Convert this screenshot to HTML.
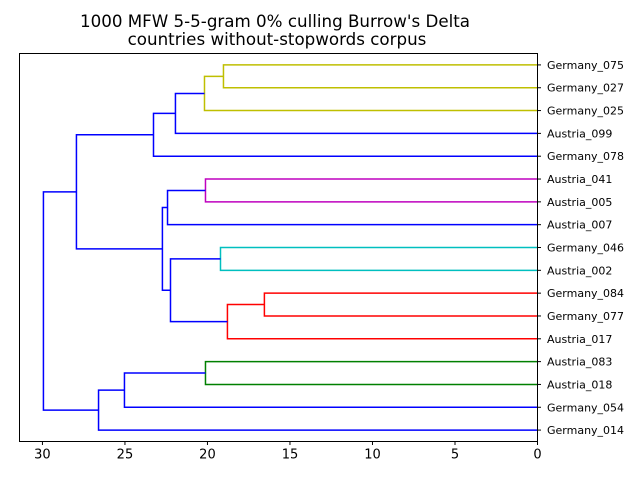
<!DOCTYPE html>
<html><head><meta charset="utf-8"><style>
body{margin:0;background:#fff;}
svg text{font-family:"DejaVu Sans","Liberation Sans",sans-serif;}
</style></head><body>
<svg id="chart" width="640" height="480" viewBox="0 0 640 480" xmlns="http://www.w3.org/2000/svg">
<rect width="640" height="480" fill="#fff"/>
<text x="275" y="27" font-size="16.7" text-anchor="middle">1000 MFW 5-5-gram 0% culling Burrow's Delta</text>
<text x="277" y="45" font-size="16.7" text-anchor="middle">countries without-stopwords corpus</text>
<g id="marks"></g>
<rect x="19.5" y="53.5" width="518" height="388" fill="none" stroke="#000" stroke-width="1"/>
<g id="axes"></g>
</svg>
<script>
const leaves = ["Germany_075","Germany_027","Germany_025","Austria_099","Germany_078","Austria_041","Austria_005","Austria_007","Germany_046","Austria_002","Germany_084","Germany_077","Austria_017","Austria_083","Austria_018","Germany_054","Germany_014"];
const mergeLeft  = [0,17,18,19,5,21,8,10,24,23,22,20,13,29,30,28];
const mergeRight = [1,2,3,4,6,7,9,11,12,25,26,27,14,15,16,31];
const mergeHeight= [19.03,20.18,21.94,23.27,20.12,22.42,19.21,16.55,18.79,22.24,22.73,27.94,20.12,25.03,26.6,29.94];
const mergeColor = ["#bfbf00","#bfbf00","#0000ff","#0000ff","#bf00bf","#0000ff","#00bfbf","#ff0000","#ff0000","#0000ff","#0000ff","#0000ff","#008000","#0000ff","#0000ff","#0000ff"];
const xTicks = [30,25,20,15,10,5,0];

const L=19.5,R=537.5,T=53.5,B=441.5;
const xMax=31.39;
function xs(v){return R-(v/xMax)*(R-L);}
function ys(u){return T+(u/(leaves.length*10))*(B-T);}
const NS="http://www.w3.org/2000/svg";
const marks=document.getElementById('marks'), axes=document.getElementById('axes');
const nodeY=[],nodeH=[];
leaves.forEach((n,i)=>{nodeY.push(5+10*i);nodeH.push(0);});
mergeLeft.forEach((a,k)=>{
  const b=mergeRight[k],h=mergeHeight[k];
  const p=document.createElementNS(NS,'path');
  p.setAttribute('d',`M${xs(nodeH[a])},${ys(nodeY[a])}H${xs(h)}V${ys(nodeY[b])}H${xs(nodeH[b])}`);
  p.setAttribute('fill','none');p.setAttribute('stroke',mergeColor[k]);p.setAttribute('stroke-width','1.5');
  
  
  marks.appendChild(p);
  nodeY.push((nodeY[a]+nodeY[b])/2);nodeH.push(h);
});
xTicks.forEach(t=>{
  const x=xs(t);
  const l=document.createElementNS(NS,'line');
  l.setAttribute('x1',x);l.setAttribute('x2',x);l.setAttribute('y1',B);l.setAttribute('y2',B+3.5);l.setAttribute('stroke','#000');
  
  
  axes.appendChild(l);
  const tx=document.createElementNS(NS,'text');
  tx.setAttribute('x',x);tx.setAttribute('y',B+17);tx.setAttribute('font-size','13');tx.setAttribute('text-anchor','middle');
  tx.textContent=t;
  
  
  axes.appendChild(tx);
});
leaves.forEach((n,i)=>{
  const y=ys(5+10*i);
  const l=document.createElementNS(NS,'line');
  l.setAttribute('x1',R);l.setAttribute('x2',R+3.5);l.setAttribute('y1',y);l.setAttribute('y2',y);l.setAttribute('stroke','#000');
  
  
  axes.appendChild(l);
  const tx=document.createElementNS(NS,'text');
  tx.setAttribute('x',547);tx.setAttribute('y',y+4);tx.setAttribute('font-size','11');
  tx.textContent=n;
  
  
  axes.appendChild(tx);
});
</script>
</body></html>
